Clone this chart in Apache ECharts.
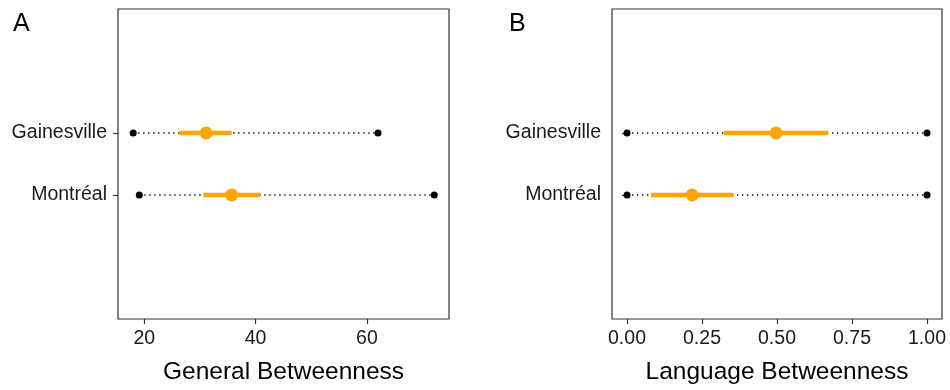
<!DOCTYPE html>
<html>
<head>
<meta charset="utf-8">
<script src="https://cdn.jsdelivr.net/npm/echarts@6/dist/echarts.min.js"></script>
<style>
  html, body { margin: 0; padding: 0; background: #fff; }
  #chart { width: 950px; height: 390px; }
</style>
</head>
<body>
<div id="chart"></div>
<script>
var cities = ['Gainesville', 'Montréal'];
var cityY = [3, 2];

/* panel A: general betweenness */
var genMin = [18.0, 19.1];
var genMax = [62.0, 72.1];
var genLow = [26.3, 30.6];
var genHigh = [35.7, 40.8];
var genMid = [31.1, 35.7];
var genTicks = [20, 40, 60];

/* panel B: language betweenness */
var langMin = [0, 0];
var langMax = [1, 1];
var langLow = [0.323, 0.080];
var langHigh = [0.670, 0.355];
var langMid = [0.497, 0.217];
var langTicks = [0, 0.25, 0.5, 0.75, 1];

var FONT = '"Liberation Sans", Arial, sans-serif';
var ORANGE = '#FFA500';

function xAxisFor(idx, min, max, ticks, name, fmt){
	return {
		gridIndex: idx, type: 'value', min: min, max: max,
		name: name, nameLocation: 'middle', nameGap: 41,
		nameTextStyle: { fontFamily: FONT, fontSize: 24.5, color: '#000' },
		axisLine: { show: false },
		axisTick: { show: true, length: 5, customValues: ticks, lineStyle: { color: '#333', width: 1.2 } },
		axisLabel: { customValues: ticks, margin: 10, fontFamily: FONT, fontSize: 19.5, color: '#1a1a1a', formatter: fmt },
		splitLine: { show: false }
	};
}

function yAxisFor(idx){
	return {
		gridIndex: idx, type: 'value', min: 0, max: 5,
		axisLine: { show: false },
		axisTick: { show: true, length: 5, customValues: cityY, lineStyle: { color: '#333', width: 1.2 } },
		axisLabel: {
			customValues: cityY, margin: 11, fontFamily: FONT, fontSize: 19.5, color: '#1a1a1a',
			formatter: function(v){ return cities[cityY.indexOf(v)] || ''; }
		},
		splitLine: { show: false }
	};
}

function panelSeries(idx, mins, maxs, lows, highs, mids){
	var out = [];
	for(var i = 0; i < cities.length; i++){
		out.push({
			type: 'line', xAxisIndex: idx, yAxisIndex: idx, symbol: 'none', silent: true, z: 1,
			lineStyle: { color: '#000', width: 1.3, type: [1.3, 3.7] },
			data: [[mins[i], cityY[i]], [maxs[i], cityY[i]]]
		});
		out.push({
			type: 'line', xAxisIndex: idx, yAxisIndex: idx, symbol: 'none', silent: true, z: 3,
			lineStyle: { color: ORANGE, width: 4.5, cap: 'butt' },
			data: [[lows[i], cityY[i]], [highs[i], cityY[i]]]
		});
	}
	var ends = [];
	var centers = [];
	for(var j = 0; j < cities.length; j++){
		ends.push([mins[j], cityY[j]]);
		ends.push([maxs[j], cityY[j]]);
		centers.push([mids[j], cityY[j]]);
	}
	out.push({
		type: 'scatter', xAxisIndex: idx, yAxisIndex: idx, symbolSize: 7, z: 2, silent: true,
		itemStyle: { color: '#000', opacity: 1 }, data: ends
	});
	out.push({
		type: 'scatter', xAxisIndex: idx, yAxisIndex: idx, symbolSize: 13, z: 4, silent: true,
		itemStyle: { color: ORANGE, opacity: 1 }, data: centers
	});
	return out;
}

var chart = echarts.init(document.getElementById('chart'));
var option = {
	animation: false,
	backgroundColor: '#fff',
	title: [
		{ text: 'A', left: 8, top: 7, textStyle: { fontFamily: FONT, fontSize: 25, fontWeight: 'normal', color: '#000' } },
		{ text: 'B', left: 504, top: 7, textStyle: { fontFamily: FONT, fontSize: 25, fontWeight: 'normal', color: '#000' } }
	],
	grid: [
		{ left: 118, right: 501, top: 9, bottom: 71, show: true, borderColor: '#333', borderWidth: 1.2 },
		{ left: 612, right: 8, top: 9, bottom: 71, show: true, borderColor: '#333', borderWidth: 1.2 }
	],
	xAxis: [
		xAxisFor(0, 15.27, 74.76, genTicks, 'General Betweenness', function(v){ return String(v); }),
		xAxisFor(1, -0.05, 1.05, langTicks, 'Language Betweenness', function(v){ return v.toFixed(2); })
	],
	yAxis: [yAxisFor(0), yAxisFor(1)],
	series: panelSeries(0, genMin, genMax, genLow, genHigh, genMid)
		.concat(panelSeries(1, langMin, langMax, langLow, langHigh, langMid))
};
chart.setOption(option);
</script>
</body>
</html>
